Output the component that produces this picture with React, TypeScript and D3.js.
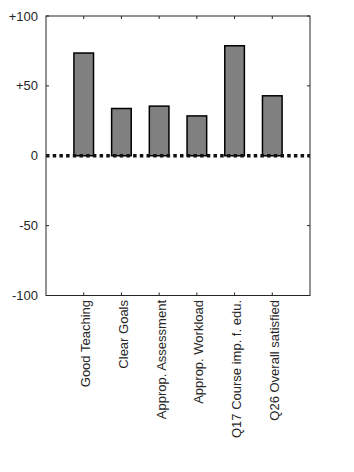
import React from "react";
import * as d3 from "d3";

// Chart data
const categories = [
  "Good Teaching",
  "Clear Goals",
  "Approp. Assessment",
  "Approp. Workload",
  "Q17 Course imp. f. edu.",
  "Q26 Overall satisfied",
];
const values = [73.5, 33.8, 35.5, 28.5, 78.7, 42.9];
const yTicks = [-100, -50, 0, 50, 100];
const yTickLabels = ["-100", "-50", "0", "+50", "+100"];

const App = () => {
  const width = 354;
  const height = 472;
  const left = 46;
  const right = 310;
  const top = 16;
  const bottom = 295.5;

  const x = d3.scaleLinear().domain([0, categories.length + 1]).range([left, right]);
  const y = d3.scaleLinear().domain([-100, 100]).range([bottom, top]);
  const barW = (x(1) - x(0)) * 0.52;
  const axisColor = "#262626";
  const font = "'Liberation Sans', Arial, sans-serif";
  const tickLen = 3;

  return (
    <div style={{ position: "absolute", left: 0, top: 0 }}>
      <svg width={width} height={height} style={{ display: "block", background: "#fff" }}>
        {/* bars */}
        {values.map((v, i) => (
          <rect
            key={categories[i]}
            x={x(i + 1) - barW / 2}
            y={y(Math.max(v, 0))}
            width={barW}
            height={Math.abs(y(v) - y(0))}
            fill="#808080"
            stroke="#000"
            strokeWidth={1.5}
          />
        ))}

        {/* zero line */}
        <line
          x1={left}
          x2={right}
          y1={y(0)}
          y2={y(0)}
          stroke="#111"
          strokeWidth={3.5}
          strokeDasharray="3.5,3.2"
        />

        {/* box */}
        <rect
          x={left}
          y={top}
          width={right - left}
          height={bottom - top}
          fill="none"
          stroke={axisColor}
          strokeWidth={1}
        />

        {/* y ticks */}
        {yTicks.map((t, i) => (
          <g key={t}>
            <line x1={left} x2={left + tickLen} y1={y(t)} y2={y(t)} stroke={axisColor} />
            <line x1={right} x2={right - tickLen} y1={y(t)} y2={y(t)} stroke={axisColor} />
            <text
              x={left - 8}
              y={y(t)}
              textAnchor="end"
              dominantBaseline="central"
              fontFamily={font}
              fontSize={13}
              fill={axisColor}
            >
              {yTickLabels[i]}
            </text>
          </g>
        ))}

        {/* x ticks */}
        {categories.map((c, i) => (
          <g key={c}>
            <line x1={x(i + 1)} x2={x(i + 1)} y1={bottom} y2={bottom - tickLen} stroke={axisColor} />
            <line x1={x(i + 1)} x2={x(i + 1)} y1={top} y2={top + tickLen} stroke={axisColor} />
            <text
              transform={`translate(${x(i + 1) + 6.5},${bottom + 4.5}) rotate(-90)`}
              textAnchor="end"
              fontFamily={font}
              fontSize={13}
              fill={axisColor}
            >
              {c}
            </text>
          </g>
        ))}
      </svg>
    </div>
  );
};

export default App;
